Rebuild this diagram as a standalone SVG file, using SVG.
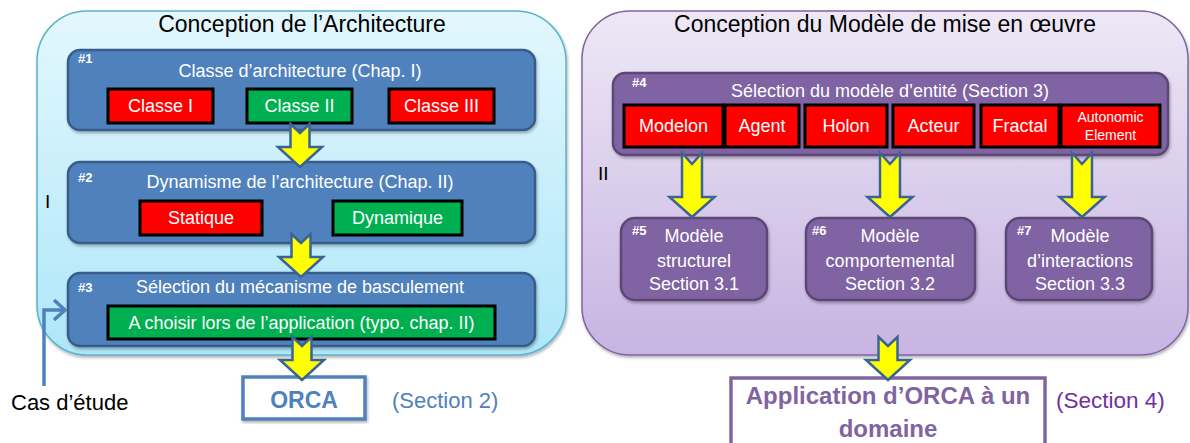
<svg xmlns="http://www.w3.org/2000/svg" width="1190" height="443" viewBox="0 0 1190 443">
<defs>
<linearGradient id="gBlue" x1="0" y1="0" x2="0" y2="1">
<stop offset="0" stop-color="#e3f7fd"/>
<stop offset="1" stop-color="#aee7f9"/>
</linearGradient>
<linearGradient id="gPurple" x1="0" y1="0" x2="0" y2="1">
<stop offset="0" stop-color="#eee8f6"/>
<stop offset="1" stop-color="#c7b4e2"/>
</linearGradient>
<filter id="sh" x="-5%" y="-5%" width="110%" height="115%">
<feDropShadow dx="1" dy="2" stdDeviation="1.5" flood-color="#000" flood-opacity="0.3"/>
</filter>
<path id="arrS" d="M-9.5,0 L0,9 L9.5,0 L9.5,23 L22,23 L0,43 L-22,23 L-9.5,23 Z"/>
<path id="arrL" d="M-10,0 L0,11 L10,0 L10,44 L22.5,44 L0,64 L-22.5,44 L-10,44 Z"/>
<marker id="open" viewBox="0 0 14 22" refX="12" refY="11" markerWidth="14" markerHeight="22" markerUnits="userSpaceOnUse" orient="auto">
<path d="M1,1 L12,11 L1,21" fill="none" stroke="#4f81bd" stroke-width="3.5"/>
</marker>
<style>
text{font-family:"Liberation Sans",Arial,sans-serif}
.panelB{fill:url(#gBlue);stroke:#5bb3cc;stroke-width:1.5;filter:url(#sh)}
.panelP{fill:url(#gPurple);stroke:#8064a2;stroke-width:1.5;filter:url(#sh)}
.bbox{fill:#4f81bd;stroke:#385d8a;stroke-width:2.5;filter:url(#sh)}
.pbox{fill:#8064a2;stroke:#5c4776;stroke-width:2.5;filter:url(#sh)}
.red{fill:#ff0000;stroke:#000;stroke-width:3}
.green{fill:#00b050;stroke:#000;stroke-width:3}
.ptitle{font-size:23px;fill:#000;text-anchor:middle}
.t{font-size:18px;fill:#fff;text-anchor:middle}
.ts{font-size:14px;fill:#fff;text-anchor:middle}
.num{font-size:13px;font-weight:bold;fill:#fff}
.roman{font-size:19px;fill:#000}
.arrow{fill:#ffff00;stroke:#3b6496;stroke-width:2.5;stroke-linejoin:miter}
</style>
</defs>

<g id="panel-architecture">
<rect class="panelB" x="37" y="11" width="529" height="344" rx="50"/>
<text class="ptitle" x="302" y="32">Conception de l’Architecture</text>
<text class="roman" x="45" y="208">I</text>
</g>

<g id="panel-modele">
<rect class="panelP" x="582" y="11" width="606" height="344" rx="48"/>
<text class="ptitle" x="885" y="32">Conception du Modèle de mise en œuvre</text>
<text class="roman" x="598" y="180">II</text>
</g>

<g id="node1">
<rect class="bbox" x="68" y="50" width="467" height="80" rx="12"/>
<text class="num" x="78" y="63">#1</text>
<text class="t" x="300" y="77">Classe d’architecture (Chap. I)</text>
<rect class="red" x="108" y="89" width="105" height="34"/>
<text class="t" x="160.5" y="112">Classe I</text>
<rect class="green" x="247" y="89" width="105" height="34"/>
<text class="t" x="299.5" y="112">Classe II</text>
<rect class="red" x="389" y="89" width="105" height="34"/>
<text class="t" x="441.5" y="112">Classe III</text>
</g>

<g id="node2">
<rect class="bbox" x="68" y="162" width="467" height="81" rx="12"/>
<text class="num" x="78" y="182">#2</text>
<text class="t" x="300" y="188">Dynamisme de l’architecture (Chap. II)</text>
<rect class="red" x="140" y="201" width="122" height="34"/>
<text class="t" x="201" y="224">Statique</text>
<rect class="green" x="333" y="201" width="129" height="34"/>
<text class="t" x="397.5" y="224">Dynamique</text>
</g>

<g id="node3">
<rect class="bbox" x="68" y="273" width="467" height="73" rx="12"/>
<text class="num" x="78" y="292">#3</text>
<text class="t" x="300" y="293">Sélection du mécanisme de basculement</text>
<rect class="green" x="108" y="306" width="387" height="33"/>
<text class="t" x="301.5" y="329">A choisir lors de l’application (typo. chap. II)</text>
</g>

<g id="node-orca">
<rect x="243" y="377" width="122" height="42" fill="#fff" stroke="#4f81bd" stroke-width="3.5" filter="url(#sh)"/>
<text x="304" y="408" font-size="23" font-weight="bold" fill="#4f81bd" text-anchor="middle">ORCA</text>
<text x="392" y="408" font-size="22" fill="#4f81bd">(Section 2)</text>
</g>

<g id="node-cas">
<text x="11" y="410" font-size="22" fill="#000">Cas d’étude</text>
</g>

<g id="node4">
<rect class="pbox" x="613" y="73" width="555" height="82" rx="12"/>
<text class="num" x="632" y="87">#4</text>
<text class="t" x="890" y="97">Sélection du modèle d’entité (Section 3)</text>
<rect class="red" x="624" y="105" width="99" height="42"/>
<text class="t" x="673.5" y="132">Modelon</text>
<rect class="red" x="725" y="105" width="74" height="42"/>
<text class="t" x="762" y="132">Agent</text>
<rect class="red" x="805" y="105" width="82" height="42"/>
<text class="t" x="846" y="132">Holon</text>
<rect class="red" x="893" y="105" width="81" height="42"/>
<text class="t" x="933.5" y="132">Acteur</text>
<rect class="red" x="981" y="105" width="78" height="42"/>
<text class="t" x="1020" y="132">Fractal</text>
<rect class="red" x="1061" y="105" width="99" height="42"/>
<text class="ts" x="1110.5" y="122">Autonomic</text>
<text class="ts" x="1110.5" y="140">Element</text>
</g>

<g id="node5">
<rect class="pbox" x="621" y="218" width="146" height="82" rx="14"/>
<text class="num" x="632" y="235">#5</text>
<text class="t" x="694" y="242">Modèle</text>
<text class="t" x="694" y="267">structurel</text>
<text class="t" x="694" y="290">Section 3.1</text>
</g>

<g id="node6">
<rect class="pbox" x="806" y="218" width="169" height="82" rx="14"/>
<text class="num" x="812" y="235">#6</text>
<text class="t" x="890" y="242">Modèle</text>
<text class="t" x="890" y="267">comportemental</text>
<text class="t" x="890" y="290">Section 3.2</text>
</g>

<g id="node7">
<rect class="pbox" x="1006" y="218" width="146" height="82" rx="14"/>
<text class="num" x="1017" y="235">#7</text>
<text class="t" x="1080" y="242">Modèle</text>
<text class="t" x="1080" y="267">d’interactions</text>
<text class="t" x="1080" y="290">Section 3.3</text>
</g>

<g id="node-application">
<rect x="731" y="378" width="314" height="70" fill="#fff" stroke="#8064a2" stroke-width="3.5"/>
<text x="888" y="404" font-size="24" font-weight="bold" fill="#8064a2" text-anchor="middle">Application d’ORCA à un</text>
<text x="888" y="437" font-size="24" font-weight="bold" fill="#8064a2" text-anchor="middle">domaine</text>
<text x="1056" y="408" font-size="22.5" fill="#7030a0">(Section 4)</text>
</g>

<g id="connectors">
<use href="#arrS" class="arrow" transform="translate(300,124)"/>
<use href="#arrS" class="arrow" transform="translate(301,234)"/>
<use href="#arrS" class="arrow" transform="translate(302,337)"/>
<use href="#arrL" class="arrow" transform="translate(692,153)"/>
<use href="#arrL" class="arrow" transform="translate(890,153)"/>
<use href="#arrL" class="arrow" transform="translate(1082,153)"/>
<use href="#arrS" class="arrow" transform="translate(888,337)"/>
<path d="M44,386 L44,310 L65,310" fill="none" stroke="#4f81bd" stroke-width="3.5" marker-end="url(#open)"/>
</g>
</svg>
